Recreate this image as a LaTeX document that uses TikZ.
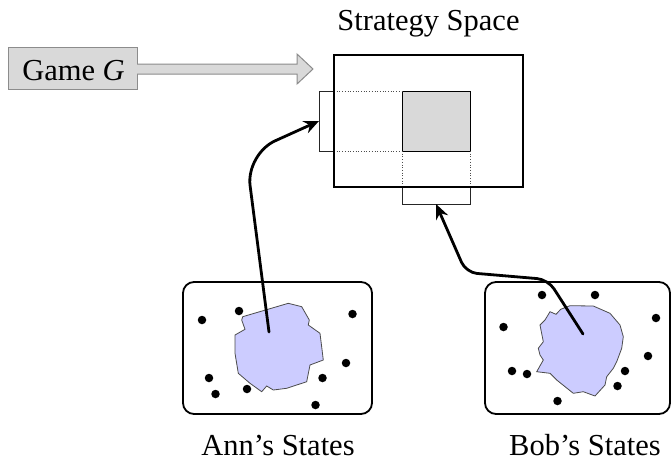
\documentclass[tikz,border=0pt]{standalone}
\usepackage{fontspec}
\setmainfont{Liberation Serif}
\usetikzlibrary{arrows.meta}
\definecolor{blobfill}{RGB}{204,204,255}
\definecolor{boxgray}{RGB}{217,217,217}
\begin{document}
\begin{tikzpicture}[x=1pt,y=-1pt,
  lbl/.style={font=\fontsize{30.5}{36}\selectfont, inner sep=0pt, anchor=base},
  rectnode/.style={inner sep=0pt, outer sep=0pt, anchor=north west},
  statebox/.style={rectnode, draw, line width=1.8pt, rounded corners=11pt},
  dot/.style={circle, fill=black, inner sep=0pt, minimum size=8.5pt},
  blob/.style={fill=blobfill, draw=black!70, line width=0.8pt},
  guide/.style={draw=black!70, line width=0.7pt, dotted},
  link/.style={line width=2.8pt, line cap=round,
    -{Stealth[length=15pt,width=13pt,inset=5pt]}},
  blockarrow/.style={fill=boxgray, draw=black!45, line width=1pt},
]
\useasboundingbox (0,0) rectangle (672,461);

% ---- Game G and its block arrow ----
\node[rectnode, draw=black!45, line width=1pt, fill=boxgray,
      minimum width=129pt, minimum height=42.5pt] (game) at (8,47) {};
\node[lbl] (gametext) at (73.5,80) {Game \textit{G}};
\draw[blockarrow] (game.east |- 0,64) -- (297,64) -- (297,54) -- (313,69)
  -- (297,84) -- (297,74) -- (game.east |- 0,74);

% ---- Strategy space ----
\node[lbl] (spacelbl) at (428.5,30) {Strategy Space};
\node[rectnode, draw=black!85, line width=0.8pt,
      minimum width=15pt, minimum height=60pt] (annproj) at (319,91) {};
\node[rectnode, draw=black!85, line width=0.8pt,
      minimum width=68pt, minimum height=17pt] (bobproj) at (402,187) {};
\node[rectnode, draw, fill=boxgray, line width=0.8pt,
      minimum width=68pt, minimum height=60pt] (cell) at (402,91) {};
\draw[guide] (annproj.north east) -- (cell.north west);
\draw[guide] (annproj.south east) -- (cell.south west);
\draw[guide] (cell.south west) -- (bobproj.north west);
\draw[guide] (cell.south east) -- (bobproj.north east);
\node[rectnode, draw, line width=1.8pt,
      minimum width=189pt, minimum height=132pt] (space) at (334,55) {};

% ---- Ann's states ----
\node[statebox, minimum width=189pt, minimum height=132pt] (annbox) at (183,282) {};
\draw[blob] (242.7,316.7) -- (288.3,303.3) -- (301.7,306.7) -- (309.3,320)
  -- (308.3,325) -- (320,333.3) -- (323.3,360) -- (310,365) -- (306.7,381.7)
  -- (286.7,388.3) -- (273.3,390) -- (266.7,386) -- (261.7,391.7)
  -- (250,383.3) -- (238.3,373.3) -- (235,353.3) -- (235,335)
  -- (245,329.3) -- (241.7,320) -- cycle;
\foreach \p in {(202,320),(239,311),(352.5,314),(346,363),(322.5,378),
                (209,378),(215.5,394),(247,389),(315.5,405)}
  \node[dot] at \p {};
\node[lbl] (annlbl) at (278,455) {Ann’s States};

% ---- Bob's states ----
\node[statebox, minimum width=185pt, minimum height=132pt] (bobbox) at (485,282) {};
\draw[blob] (550,311.7) -- (556,314.3) -- (560.7,309.3) -- (570,305.7)
  -- (593.3,306) -- (610,313.3) -- (620,325) -- (623.3,336.7)
  -- (621.7,348.3) -- (616.7,361.7) -- (613.3,368.3) -- (606.7,376.7)
  -- (605,385) -- (595,396) -- (583.3,391.7) -- (573.3,393.3)
  -- (556.7,380) -- (550,373.3) -- (536.7,371.7) -- (543.3,360)
  -- (540,355) -- (538.3,348.3) -- (543.3,341.7) -- (540,325)
  -- (545,320) -- cycle;
\foreach \p in {(542,295),(595,295),(656,318),(503.5,327),(648,356),
                (512,371),(527,374),(625,371),(617.5,386),(557.5,401)}
  \node[dot] at \p {};
\node[lbl] (boblbl) at (585,455) {Bob’s States};

% ---- Projections of the states onto the strategy space ----
\coordinate (annpt) at (269,332);
\coordinate (bobpt) at (583,334);
\draw[link, rounded corners=32pt] (annpt) -- (246,154) -- (annproj.west);
\draw[link, rounded corners=11pt] (bobpt) -- (548,279.5) -- (466,272.5)
  -- (bobproj.south);
\end{tikzpicture}
\end{document}
